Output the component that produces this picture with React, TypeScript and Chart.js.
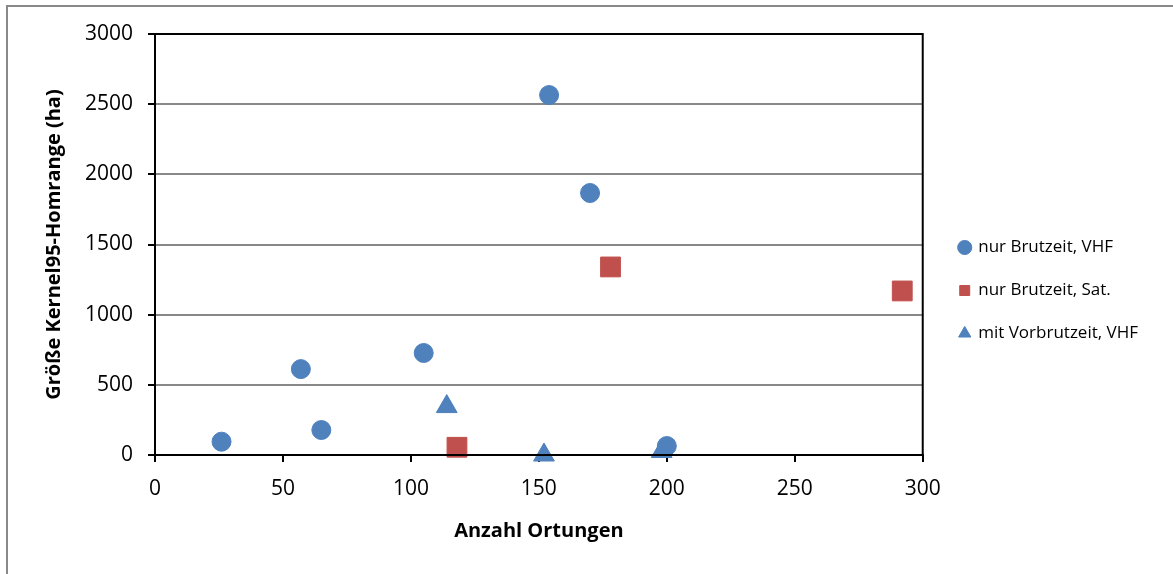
import React, { useEffect, useRef } from "react";
import { Chart, registerables } from "chart.js";

Chart.register(...registerables);

const seriesNames = ["nur Brutzeit, VHF", "nur Brutzeit, Sat.", "mit Vorbrutzeit, VHF"];
const vhfX = [26, 57, 65, 105, 154, 170, 200];
const vhfY = [95, 612, 178, 727, 2565, 1867, 64];
const satX = [118, 178, 292];
const satY = [55, 1340, 1169];
const vorX = [114, 152, 198];
const vorY = [345, 0, 25];
const xTicks = [0, 50, 100, 150, 200, 250, 300];
const yTicks = [0, 500, 1000, 1500, 2000, 2500, 3000];

const BLUE = "#4F81BD";
const RED = "#C0504D";
const FONT = "'Open Sans', Lato, sans-serif";

const toPts = (xs: number[], ys: number[]) => xs.map((x, i) => ({ x, y: ys[i] }));

const frame = {
  id: "frame",
  afterDatasetsDraw(chart: any) {
    const a = chart.chartArea;
    const ctx = chart.ctx;
    ctx.save();
    ctx.strokeStyle = "#000";
    ctx.lineWidth = 2;
    ctx.strokeRect(a.left, a.top, a.right - a.left, a.bottom - a.top);
    ctx.restore();
  },
};

export default function App() {
  const ref = useRef<HTMLCanvasElement>(null);
  useEffect(() => {
    const chart = new Chart(ref.current!, {
      type: "scatter",
      data: {
        datasets: [
          { label: seriesNames[0], data: toPts(vhfX, vhfY), backgroundColor: BLUE, borderColor: BLUE, pointStyle: "circle", pointRadius: 9.5, pointHoverRadius: 9.5, clip: false },
          { label: seriesNames[1], data: toPts(satX, satY), backgroundColor: RED, borderColor: RED, pointStyle: "rect", pointRadius: 14, pointHoverRadius: 14, clip: false },
          { label: seriesNames[2], data: toPts(vorX, vorY), backgroundColor: BLUE, borderColor: BLUE, pointStyle: "triangle", pointRadius: 12, pointHoverRadius: 12, clip: false },
        ],
      },
      options: {
        animation: false,
        responsive: false,
        layout: { padding: { left: 0, right: 25, top: 34, bottom: 27 } },
        plugins: {
          tooltip: { enabled: false },
          legend: {
            position: "right",
            align: "center",
            maxWidth: 320,
            labels: {
              usePointStyle: true,
              boxWidth: 10,
              boxHeight: 10,
              padding: 26,
              color: "#000",
              font: { family: FONT, size: 17 },
            },
          },
        },
        scales: {
          x: {
            type: "linear",
            min: 0,
            max: 300,
            afterBuildTicks: (s: any) => { s.ticks = xTicks.map((v) => ({ value: v })); },
            afterFit: (s: any) => { s.height = 92; },
            border: { color: "#000", width: 2 },
            grid: { drawOnChartArea: false, drawTicks: true, tickLength: 7, tickColor: "#000", lineWidth: 2 },
            ticks: { color: "#000", font: { family: FONT, size: 21 }, padding: 14, callback: (v: any) => String(v) },
            title: { display: true, text: "Anzahl Ortungen", color: "#000", font: { family: FONT, size: 20, weight: "bold" }, padding: { top: 0, bottom: 4 } },
          },
          y: {
            type: "linear",
            min: 0,
            max: 3000,
            afterBuildTicks: (s: any) => { s.ticks = yTicks.map((v) => ({ value: v })); },
            afterFit: (s: any) => { s.width = 155; },
            border: { color: "#000", width: 2 },
            grid: { color: "#888888", lineWidth: 2, tickLength: 7, tickColor: "#000" },
            ticks: { color: "#000", font: { family: FONT, size: 21 }, padding: 15, callback: (v: any) => String(v) },
            title: { display: true, text: "Größe Kernel95-Homrange (ha)", color: "#000", font: { family: FONT, size: 20, weight: "bold" }, padding: { top: 42, bottom: 0 } },
          },
          yR: {
            type: "linear",
            position: "right",
            display: true,
            afterFit: (s: any) => { s.width = 11; },
            grid: { display: false, drawTicks: false },
            border: { display: false },
            ticks: { display: false },
          },
        },
      },
      plugins: [frame],
    } as any);
    return () => chart.destroy();
  }, []);
  return (
    <div style={{ position: "fixed", left: 0, top: 0, width: 1173, height: 574, overflow: "hidden", background: "#fff" }}>
      <div style={{ position: "absolute", left: 6, top: 5, width: 1200, height: 600, border: "2px solid #898989" }} />
      <canvas ref={ref} width={1173} height={574} style={{ position: "absolute", left: 0, top: 0 }} />
    </div>
  );
}
